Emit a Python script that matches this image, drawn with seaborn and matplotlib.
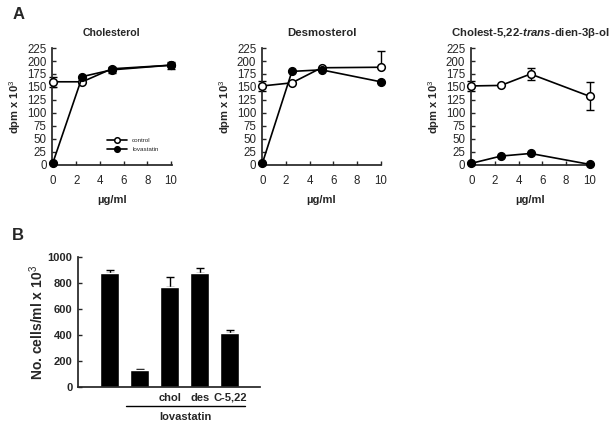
import numpy as np
import matplotlib.pyplot as plt
import pandas as pd
import seaborn as sns

sns.set_theme(style='ticks')
plt.rcParams['font.family'] = ['Liberation Sans', 'DejaVu Sans']
plt.rcParams['mathtext.fontset'] = 'custom'
plt.rcParams['mathtext.rm'] = 'Liberation Sans'
plt.rcParams['mathtext.bf'] = 'Liberation Sans:bold'
plt.rcParams['mathtext.it'] = 'Liberation Sans:italic'
plt.rcParams['mathtext.bfit'] = 'Liberation Sans:bold:italic'

# panel A data (dpm x 10^3)
conc = [0, 2.5, 5, 10]
titles = ['Cholesterol', 'Desmosterol', r'Cholest-5,22-$\bfit{trans}$-dien-3$\mathbf{\beta}$-ol']
title_sizes = [7.6, 8.2, 8.2]
ctrl = [[160, 160, 185, 192], [152, 158, 187, 188], [152, 153, 175, 132]]
ctrl_lo = [[10, 0, 0, 0], [10, 0, 0, 0], [10, 0, 12, 27]]
ctrl_hi = [[10, 0, 0, 0], [10, 0, 0, 32], [10, 0, 12, 27]]
lova = [[3, 170, 183, 192], [3, 180, 183, 160], [3, 17, 22, 1]]
lova_err = [[0, 0, 6, 7], [0, 0, 0, 0], [0, 0, 0, 0]]

# panel B data (cells/ml x 10^3)
groups = ['ctrl', 'lova', 'chol', 'des', 'C-5,22']
group_labels = ['', '', 'chol', 'des', 'C-5,22']
cells = [875, 135, 770, 875, 420]
cells_err = [25, 8, 80, 40, 20]

fig = plt.figure(figsize=(6.13, 4.25), dpi=100)
lefts = [0.085, 0.427, 0.768]

for i in range(3):
    ax = fig.add_axes([lefts[i], 0.612, 0.195, 0.275])
    df = pd.DataFrame({'x': conc * 2,
                       'y': ctrl[i] + lova[i],
                       'cond': ['control'] * 4 + ['lovastatin'] * 4})
    ax.errorbar(conc, ctrl[i], yerr=[ctrl_lo[i], ctrl_hi[i]], fmt='none',
                ecolor='black', elinewidth=1, capsize=3, clip_on=False, zorder=2)
    ax.errorbar(conc, lova[i], yerr=lova_err[i], fmt='none',
                ecolor='black', elinewidth=1, capsize=3, clip_on=False, zorder=2)
    sns.lineplot(data=df, x='x', y='y', hue='cond', style='cond',
                 palette=['black', 'black'], markers=['o', 'o'], dashes=False,
                 ax=ax, linewidth=1.2, markersize=5.5, markeredgecolor='black',
                 markeredgewidth=1.1, clip_on=False, zorder=3)
    for ln in ax.get_lines():
        if len(ln.get_xdata()) == 4 and list(ln.get_ydata()) == ctrl[i]:
            ln.set_markerfacecolor('white')
    ax.set_xlim(-0.05, 10.05)
    ax.set_ylim(0, 225)
    ax.set_xticks(range(0, 11, 2))
    ax.set_yticks(range(0, 226, 25))
    ax.tick_params(labelsize=8.3, length=3, width=1, direction='in')
    ax.tick_params(axis='x', pad=7)
    ax.tick_params(axis='y', pad=4)
    ax.set_xlabel('µg/ml', fontsize=8, fontweight='bold', labelpad=6)
    ax.set_ylabel('dpm x 10$^3$', fontsize=8, fontweight='bold', labelpad=3)
    ax.set_title(titles[i], fontsize=title_sizes[i], fontweight='bold', pad=9)
    sns.despine(ax=ax)
    if i == 0:
        h, l = ax.get_legend_handles_labels()
        for hh in h:
            hh.set_markersize(4)
        h[0].set_markerfacecolor('white')
        ax.legend(h, l, loc='lower left', bbox_to_anchor=(0.44, 0.09), frameon=False,
                  fontsize=4.5, handlelength=3.2, handletextpad=0.8, borderaxespad=0,
                  labelspacing=0.6)
    else:
        ax.get_legend().remove()

axb = fig.add_axes([0.127, 0.089, 0.297, 0.306])
dfb = pd.DataFrame({'g': groups, 'v': cells})
sns.barplot(data=dfb, x='g', y='v', color='black', width=0.63, saturation=1, ax=axb)
axb.errorbar(range(5), cells, yerr=[[0] * 5, cells_err], fmt='none', ecolor='black',
             elinewidth=1, capsize=3, zorder=0)
axb.set_xlim(-1.07, 5.0)
axb.set_ylim(0, 1000)
axb.set_yticks(range(0, 1001, 200))
axb.set_xticks(range(5))
axb.set_xticklabels(group_labels, fontsize=8, fontweight='bold')
axb.tick_params(axis='x', length=0, pad=4)
axb.tick_params(axis='y', labelsize=8, length=3, width=1, direction='in', pad=4)
for t in axb.get_yticklabels():
    t.set_fontweight('bold')
axb.set_xlabel('')
axb.set_ylabel('No. cells/ml x 10$^3$', fontsize=10, fontweight='bold', labelpad=1)
sns.despine(ax=axb)
axb.plot([0.53, 4.5], [-0.146, -0.146], color='black', linewidth=1,
         transform=axb.get_xaxis_transform(), clip_on=False)
axb.text(2.52, -0.23, 'lovastatin', transform=axb.get_xaxis_transform(),
         ha='center', va='center', fontsize=8, fontweight='bold')

fig.text(0.02, 0.965, 'A', fontsize=12, fontweight='bold', va='center')
fig.text(0.02, 0.445, 'B', fontsize=12, fontweight='bold', va='center')

fig.savefig('out.png', dpi=100)
